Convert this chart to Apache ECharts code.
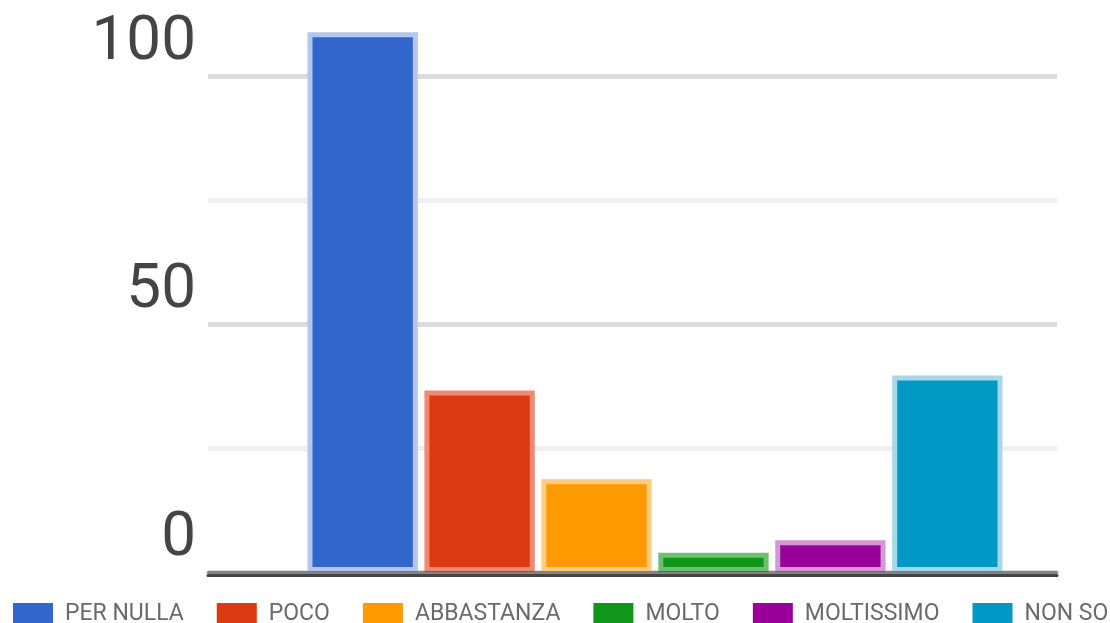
<!DOCTYPE html>
<html>
<head>
<meta charset="utf-8">
<script src="https://cdn.jsdelivr.net/npm/echarts@6/dist/echarts.min.js"></script>
<style>
  html, body { margin: 0; padding: 0; background: #fff; }
  #chart { width: 1110px; height: 623px; }
</style>
</head>
<body>
<div id="chart"></div>
<script>
const categories = ['PER NULLA', 'POCO', 'ABBASTANZA', 'MOLTO', 'MOLTISSIMO', 'NON SO'];
const values = [108.8, 36.6, 18.7, 3.9, 6.4, 39.6];
const yTickLabels = [0, 50, 100];

const palette = ['#3366cc', '#dc3912', '#ff9900', '#109618', '#990099', '#0099c6'];
const borderPalette = ['#b4c6ec', '#ee8a72', '#ffcc80', '#6cc070', '#d797d7', '#a6d8ea'];

const FONT = "Roboto, 'Liberation Sans', Arial, sans-serif";

const chart = echarts.init(document.getElementById('chart'));

const series = categories.map((name, i) => ({
  name: name,
  type: 'bar',
  xAxisIndex: 2,
  yAxisIndex: 1,
  data: [values[i]],
  barGap: '6%',
  barCategoryGap: '0%',
  itemStyle: { color: palette[i], borderColor: borderPalette[i], borderWidth: 5 },
  emphasis: { disabled: true }
}));

chart.setOption({
  animation: false,
  backgroundColor: '#ffffff',
  grid: [
    { left: 208, right: 53, top: 1.6, bottom: 51 },
    { left: 307.5, width: 695, top: 1.6, bottom: 51 }
  ],
  legend: {
    data: categories,
    left: 13,
    top: 599.5,
    width: 1097,
    padding: 0,
    icon: 'rect',
    itemWidth: 40,
    itemHeight: 22,
    itemGap: 33,
    itemStyle: { borderWidth: 0 },
    textStyle: {
      fontFamily: FONT,
      fontSize: 23,
      lineHeight: 22,
      color: '#6a6a6a',
      padding: [7, 0, 0, 7]
    }
  },
  xAxis: [
    {
      gridIndex: 0, type: 'category', data: [''], position: 'bottom', z: 10,
      axisLine: { show: true, lineStyle: { color: 'rgba(0,0,0,0.4)', width: 3 } },
      axisTick: { show: false }, axisLabel: { show: false }, splitLine: { show: false }
    },
    {
      gridIndex: 0, type: 'category', data: [''], position: 'bottom', offset: 3, z: 10,
      axisLine: { show: true, lineStyle: { color: '#444', width: 3 } },
      axisTick: { show: false }, axisLabel: { show: false }, splitLine: { show: false }
    },
    {
      gridIndex: 1, type: 'category', data: [''],
      axisLine: { show: false }, axisTick: { show: false }, axisLabel: { show: false }, splitLine: { show: false }
    }
  ],
  yAxis: [
    {
      gridIndex: 0, type: 'value', min: 0, max: 115, interval: 25,
      axisLine: { show: false }, axisTick: { show: false },
      splitLine: {
        show: true,
        lineStyle: {
          color: ['#dcdcdc', '#efefef', '#dcdcdc', '#efefef', '#dcdcdc', 'rgba(0,0,0,0)'],
          width: 5
        }
      },
      axisLabel: {
        margin: 12,
        fontFamily: FONT,
        fontSize: 62,
        color: '#444',
        verticalAlign: 'bottom',
        lineHeight: 66,
        showMaxLabel: false,
        formatter: v => (yTickLabels.indexOf(v) >= 0 ? String(v) : '')
      }
    },
    {
      gridIndex: 1, type: 'value', min: 0, max: 115, interval: 25,
      axisLine: { show: false }, axisTick: { show: false }, axisLabel: { show: false }, splitLine: { show: false }
    }
  ],
  series: series
});
</script>
</body>
</html>
